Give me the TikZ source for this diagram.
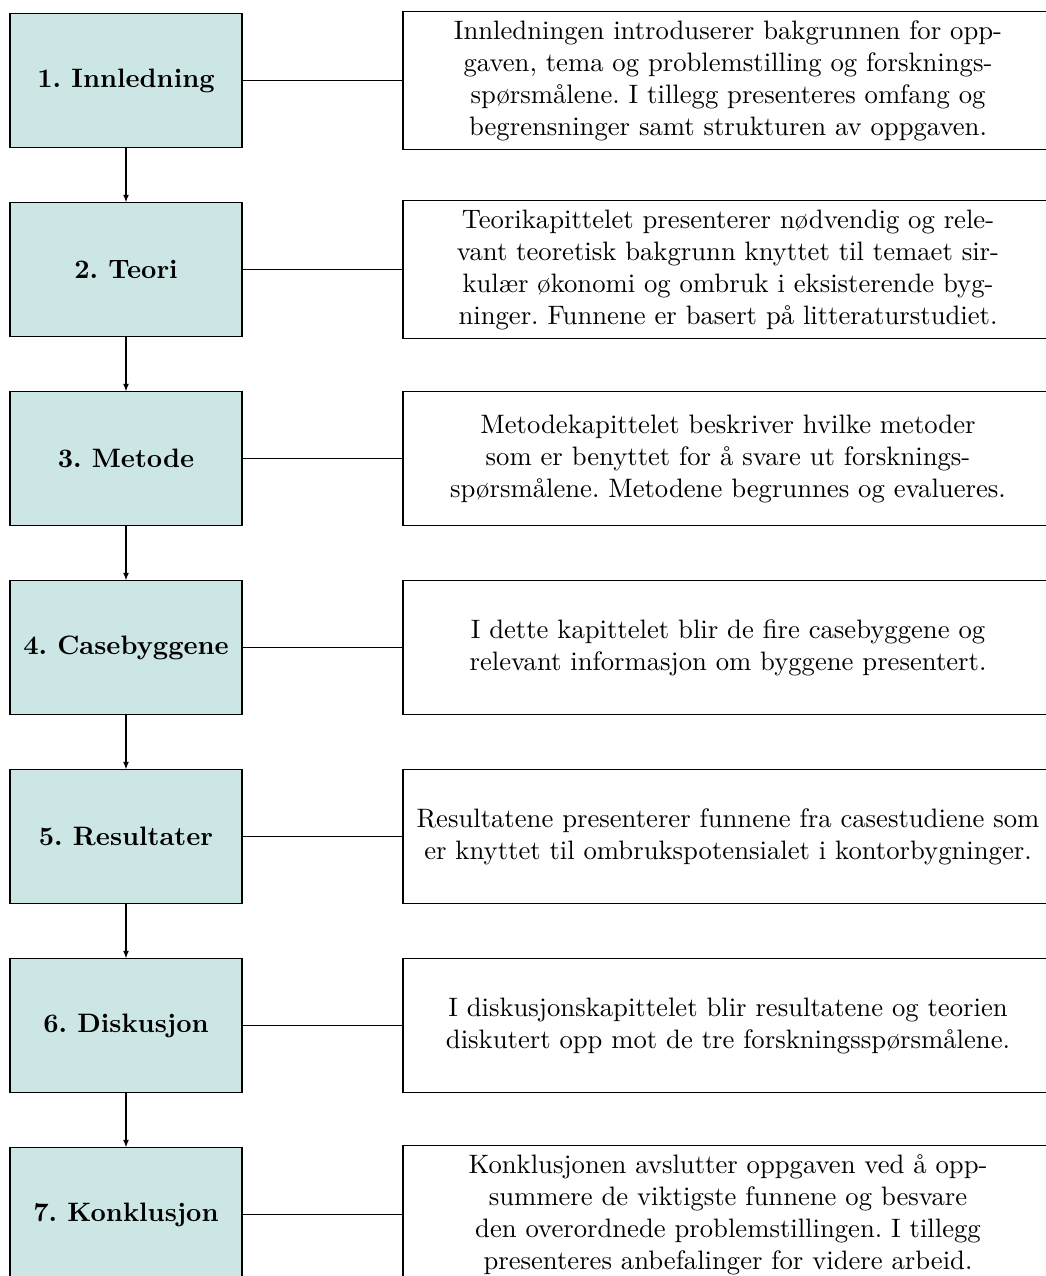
\documentclass[tikz,border=0pt]{standalone}
\usepackage{fontspec}
\usetikzlibrary{arrows.meta}
\frenchspacing
\definecolor{boxfill}{RGB}{204,230,230}
\tikzset{
  lbox/.style={draw=black, fill=boxfill, minimum width=87pt, minimum height=50pt, inner sep=3.33pt, font=\bfseries, align=center},
  rbox/.style={draw=black, fill=white, minimum width=243.75pt, minimum height=50pt, text width=237pt, inner sep=3.33pt, align=center},
  link/.style={draw=black, line width=0.4pt},
  flow/.style={draw=black, line width=0.4pt, -{Latex[length=2.8pt,width=2.2pt]}}
}
\begin{document}
\begin{tikzpicture}[x=0.375pt, y=-0.375pt]
\clip (0,0) rectangle (1046,1276);
\node[lbox] (l1) at (126,80.5) {1. Innledning};
\node[lbox] (l2) at (126,269.5) {2. Teori};
\node[lbox] (l3) at (126,458.5) {3. Metode};
\node[lbox] (l4) at (126,647.5) {4. Casebyggene};
\node[lbox] (l5) at (126,836.5) {5. Resultater};
\node[lbox] (l6) at (126,1025.5) {6. Diskusjon};
\node[lbox] (l7) at (126,1214.5) {7. Konklusjon};

\node[rbox] (r1) at (728,80.5) {Innledningen introduserer bakgrunnen for opp-\\gaven, tema og problemstilling og forsknings-\\spørsmålene. I tillegg presenteres omfang og\\begrensninger samt strukturen av oppgaven.};
\node[rbox] (r2) at (728,269.5) {Teorikapittelet presenterer nødvendig og rele-\\vant teoretisk bakgrunn knyttet til temaet sir-\\kulær økonomi og ombruk i eksisterende byg-\\ninger. Funnene er basert på litteraturstudiet.};
\node[rbox] (r3) at (728,458.5) {Metodekapittelet beskriver hvilke metoder\\som er benyttet for å svare ut forsknings-\\spørsmålene. Metodene begrunnes og evalueres.};
\node[rbox] (r4) at (728,647.5) {I dette kapittelet blir de fire casebyggene og\\relevant informasjon om byggene presentert.};
\node[rbox] (r5) at (728,836.5) {Resultatene presenterer funnene fra casestudiene som\\er knyttet til ombrukspotensialet i kontorbygninger.};
\node[rbox] (r6) at (728,1025.5) {I diskusjonskapittelet blir resultatene og teorien\\diskutert opp mot de tre forskningsspørsmålene.};
\node[rbox] (r7) at (728,1214.5) {Konklusjonen avslutter oppgaven ved å opp-\\summere de viktigste funnene og besvare\\den overordnede problemstillingen. I tillegg\\presenteres anbefalinger for videre arbeid.};

\foreach \i in {1,...,7} { \draw[link] (l\i) -- (r\i); }
\foreach \i/\j in {1/2,2/3,3/4,4/5,5/6,6/7} { \draw[flow] (l\i) -- (l\j); }
\end{tikzpicture}
\end{document}
